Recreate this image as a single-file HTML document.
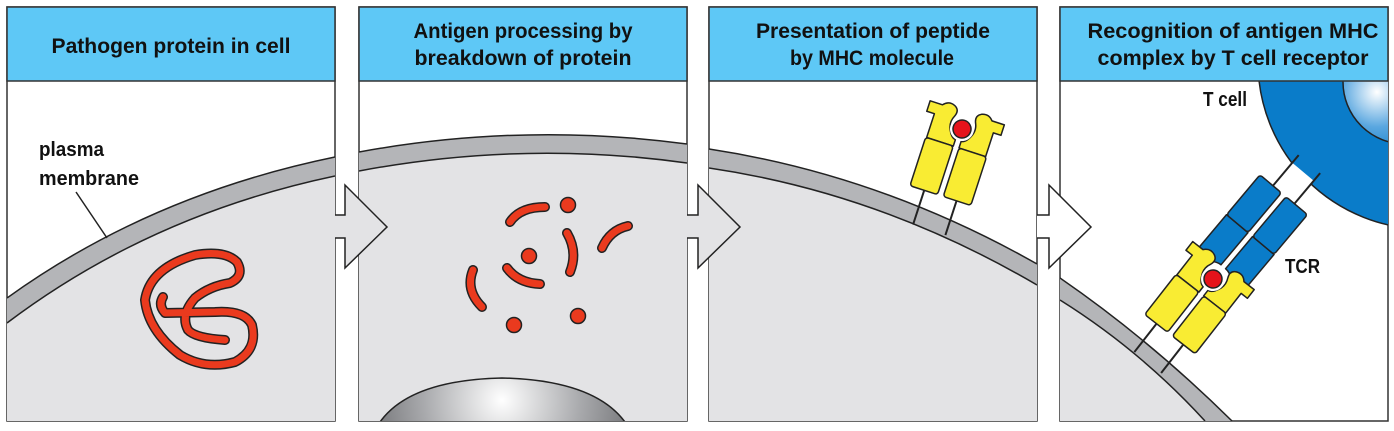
<!DOCTYPE html>
<html><head><meta charset="utf-8"><style>
html,body{margin:0;padding:0;background:#fff;}
svg{display:block;}
text{font-family:"Liberation Sans Narrow","Liberation Sans",sans-serif;font-weight:bold;fill:#111;}
</style></head><body>
<svg width="1394" height="431" viewBox="0 0 1394 431" xmlns="http://www.w3.org/2000/svg">
<defs>
<radialGradient id="nuc" cx="502" cy="400" r="130" gradientUnits="userSpaceOnUse">
<stop offset="0" stop-color="#ffffff"/><stop offset="0.6" stop-color="#a9aaad"/><stop offset="1" stop-color="#77787b"/>
</radialGradient>
<radialGradient id="tnuc" cx="1377" cy="92" r="70" gradientUnits="userSpaceOnUse">
<stop offset="0" stop-color="#ffffff"/><stop offset="0.5" stop-color="#5aa7e0"/><stop offset="1" stop-color="#0a7cc9"/>
</radialGradient>
<clipPath id="c1"><rect x="7" y="81" width="328" height="340"/></clipPath>
<clipPath id="c2"><rect x="359" y="81" width="328" height="340"/></clipPath>
<clipPath id="c3"><rect x="709" y="81" width="328" height="340"/></clipPath>
<clipPath id="c4"><rect x="1060" y="81" width="328" height="340"/></clipPath>
<path id="prot" d="M225,340 Q195,338 188,330 Q180,315 195,298 Q210,286 230,283 Q245,276 237,262 Q225,250 195,255 Q150,268 145,300 Q148,330 180,355 Q205,370 235,362 Q258,350 252,325 Q245,310 215,312 L165,313 Q158,305 163,297"/>
<path id="f1" d="M510,222 Q520,207 545,207 M602,248 Q610,230 628,226 M567,233 Q578,252 570,272 M507,268 Q518,283 540,284 M473,270 Q465,290 482,307"/>
<g id="mhc" stroke="#222" stroke-width="1.5" stroke-linejoin="round">
  <line x1="-17" y1="68" x2="-17" y2="106" stroke-width="2"/>
  <line x1="17" y1="68" x2="17" y2="106" stroke-width="2"/>
  <path d="M-39,-17 L-26,-17 Q-21,-23 -14,-20 Q-8,-17 -11,-10 Q-14,-4 -12,2 Q-8,12 -3,12 L-3,19 L-31,19 L-31,-6 L-39,-6 Z" fill="#f9ec33"/>
  <rect x="-32" y="19" width="29" height="51" rx="3" fill="#f9ec33"/>
  <path d="M39,-17 L26,-17 Q21,-23 14,-20 Q8,-17 11,-10 Q14,-4 12,2 Q8,12 3,12 L3,19 L31,19 L31,-6 L39,-6 Z" fill="#f9ec33"/>
  <rect x="3" y="19" width="29" height="51" rx="3" fill="#f9ec33"/>
  <circle cx="0" cy="0" r="12" fill="#fff" stroke="none"/>
  <circle cx="0" cy="0" r="9" fill="#e5131b"/>
</g>
</defs>

<!-- Panel 1 -->
<rect x="7" y="7" width="328" height="414" fill="#fff" stroke="#333" stroke-width="1.5"/>
<g clip-path="url(#c1)">
<path d="M7,298 Q150,195 335,157 L335,421 L7,421Z" fill="#b4b5b8"/>
<path d="M7,323 Q150,215 335,176 L335,421 L7,421Z" fill="#e3e3e5"/>
<path d="M7,298 Q150,195 335,157 M7,323 Q150,215 335,176" fill="none" stroke="#222" stroke-width="1.5"/>
<g fill="none" stroke-linecap="round" stroke-linejoin="round">
<use href="#prot" stroke="#222" stroke-width="10"/>
<use href="#prot" stroke="#ea3a1e" stroke-width="7"/>
</g>
<line x1="76" y1="192" x2="107" y2="238" stroke="#222" stroke-width="1.5"/>
</g>
<rect x="7" y="7" width="328" height="74" fill="#5ec8f6" stroke="#333" stroke-width="1.5"/>
<text x="171" y="53" font-size="21" text-anchor="middle" textLength="239" lengthAdjust="spacingAndGlyphs">Pathogen protein in cell</text>
<text x="39" y="156" font-size="20" textLength="65" lengthAdjust="spacingAndGlyphs">plasma</text>
<text x="39" y="185" font-size="20" textLength="100" lengthAdjust="spacingAndGlyphs">membrane</text>

<!-- Panel 2 -->
<rect x="359" y="7" width="328" height="414" fill="#fff" stroke="#333" stroke-width="1.5"/>
<g clip-path="url(#c2)">
<path d="M359,152 Q523,122 687,144 L687,421 L359,421Z" fill="#b4b5b8"/>
<path d="M359,171 Q523,140 687,163 L687,421 L359,421Z" fill="#e3e3e5"/>
<path d="M359,152 Q523,122 687,144 M359,171 Q523,140 687,163" fill="none" stroke="#222" stroke-width="1.5"/>
<path d="M380,422 Q410,380 502,378 Q594,380 625,422Z" fill="url(#nuc)" stroke="#222" stroke-width="1.5"/>
<g fill="none" stroke-linecap="round">
<use href="#f1" stroke="#222" stroke-width="10"/>
<use href="#f1" stroke="#ea3a1e" stroke-width="7"/>
</g>
<g fill="#ea3a1e" stroke="#222" stroke-width="1.5">
<circle cx="568" cy="205" r="7.5"/><circle cx="529" cy="256" r="7.5"/><circle cx="578" cy="316" r="7.5"/><circle cx="514" cy="325" r="7.5"/>
</g>
</g>
<rect x="359" y="7" width="328" height="74" fill="#5ec8f6" stroke="#333" stroke-width="1.5"/>
<text x="523" y="38" font-size="21" text-anchor="middle" textLength="219" lengthAdjust="spacingAndGlyphs">Antigen processing by</text>
<text x="523" y="65" font-size="21" text-anchor="middle" textLength="217" lengthAdjust="spacingAndGlyphs">breakdown of protein</text>

<!-- Panel 3 -->
<rect x="709" y="7" width="328" height="414" fill="#fff" stroke="#333" stroke-width="1.5"/>
<g clip-path="url(#c3)">
<path d="M709,149 Q880,175 1037,264 L1037,421 L709,421Z" fill="#b4b5b8"/>
<path d="M709,168 Q880,193 1037,285 L1037,421 L709,421Z" fill="#e3e3e5"/>
<path d="M709,149 Q880,175 1037,264 M709,168 Q880,193 1037,285" fill="none" stroke="#222" stroke-width="1.5"/>
<use href="#mhc" transform="translate(962,129) rotate(18)"/>
</g>
<rect x="709" y="7" width="328" height="74" fill="#5ec8f6" stroke="#333" stroke-width="1.5"/>
<text x="873" y="38" font-size="21" text-anchor="middle" textLength="234" lengthAdjust="spacingAndGlyphs">Presentation of peptide</text>
<text x="872" y="65" font-size="21" text-anchor="middle" textLength="164" lengthAdjust="spacingAndGlyphs">by MHC molecule</text>

<!-- Panel 4 -->
<rect x="1060" y="7" width="328" height="414" fill="#fff" stroke="#333" stroke-width="1.5"/>
<g clip-path="url(#c4)">
<path d="M1060,278 Q1150,340 1232,421 L1060,421Z" fill="#b4b5b8"/>
<path d="M1060,300 Q1140,350 1205,421 L1060,421Z" fill="#e3e3e5"/>
<path d="M1060,278 Q1150,340 1232,421 M1060,300 Q1140,350 1205,421" fill="none" stroke="#222" stroke-width="1.5"/>
<circle cx="1425" cy="62" r="167" fill="#0a7cc9" stroke="#222" stroke-width="1.5"/>
<circle cx="1405" cy="82" r="62" fill="url(#tnuc)" stroke="#222" stroke-width="1.5"/>
<g transform="translate(1213,279) rotate(40)" stroke="#222" stroke-width="1.5" stroke-linejoin="round">
  <rect x="-14" y="-140" width="28" height="32" fill="#fff" stroke="none"/>
  <line x1="-14" y1="-108" x2="-14" y2="-150" stroke-width="2"/>
  <line x1="14" y1="-108" x2="14" y2="-150" stroke-width="2"/>
  <path d="M-31,-10 L-31,-58 L-3,-58 L-3,-16 Q-10,-16 -14,-10 Z" fill="#0a7cc9"/>
  <rect x="-31" y="-110" width="28" height="52" rx="3" fill="#0a7cc9"/>
  <path d="M31,-10 L31,-58 L3,-58 L3,-16 Q10,-16 14,-10 Z" fill="#0a7cc9"/>
  <rect x="3" y="-110" width="28" height="52" rx="3" fill="#0a7cc9"/>
</g>
<use href="#mhc" transform="translate(1213,279) rotate(38)"/>
</g>
<rect x="1060" y="7" width="328" height="74" fill="#5ec8f6" stroke="#333" stroke-width="1.5"/>
<text x="1233" y="38" font-size="21" text-anchor="middle" textLength="291" lengthAdjust="spacingAndGlyphs">Recognition of antigen MHC</text>
<text x="1233" y="65" font-size="21" text-anchor="middle" textLength="271" lengthAdjust="spacingAndGlyphs">complex by T cell receptor</text>
<text x="1203" y="106" font-size="20" textLength="44" lengthAdjust="spacingAndGlyphs">T cell</text>
<text x="1285" y="273" font-size="20" textLength="35" lengthAdjust="spacingAndGlyphs">TCR</text>

<!-- Arrows -->
<rect x="336" y="214" width="22" height="25" fill="#fff"/>
<path d="M335,215 L345,215 L345,185 L387,227 L345,268 L345,238 L335,238" fill="#e3e3e5" stroke="#222" stroke-width="1.5"/>
<rect x="688" y="214" width="20" height="25" fill="#fff"/>
<path d="M687,215 L698,215 L698,185 L740,227 L698,268 L698,238 L687,238" fill="#e3e3e5" stroke="#222" stroke-width="1.5"/>
<rect x="1038" y="214" width="21" height="25" fill="#fff"/>
<path d="M1037,215 L1049,215 L1049,185 L1091,227 L1049,268 L1049,238 L1037,238" fill="#fff" stroke="#222" stroke-width="1.5"/>
</svg>
</body></html>
